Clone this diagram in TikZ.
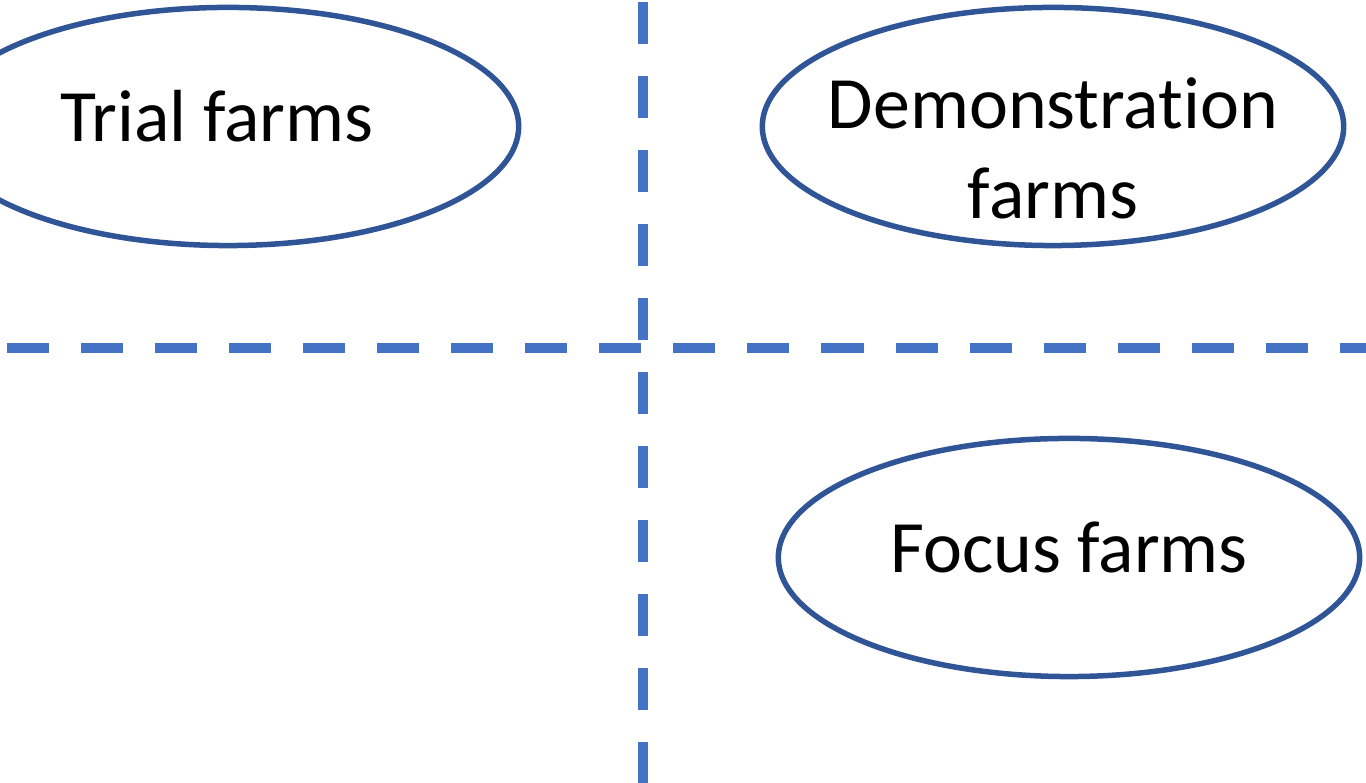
\documentclass[tikz,border=0pt]{standalone}
\usepackage{fontspec}
\setmainfont[Ligatures={NoCommon},RawFeature={-calt}]{Carlito}
\usetikzlibrary{shapes.geometric}
\definecolor{dashblue}{HTML}{4472C4}
\definecolor{ringblue}{HTML}{2F5597}
\begin{document}
\begin{tikzpicture}[x=0.01cm,y=-0.01cm,
  farm/.style={ellipse, draw=ringblue, line width=0.055cm, inner sep=0pt,
    minimum width=5.81cm, minimum height=2.38cm},
  farmtext/.style={font=\fontsize{21pt}{25.6pt}\selectfont, align=center, inner sep=0pt},
  divider/.style={draw=dashblue, line width=0.1cm, dash pattern=on 0.42cm off 0.32cm}]
\useasboundingbox (0,0) rectangle (1366,783);
\coordinate (vtop) at (643,2);
\coordinate (vbot) at (643,783);
\coordinate (hleft) at (7,348);
\coordinate (hright) at (1366,348);
\draw[divider] (vtop) -- (vbot);
\draw[divider] (hleft) -- (hright);
\node[farm] (trial) at (228,126.5) {};
\node[farm] (demo) at (1053,126.5) {};
\node[farm] (focus) at (1069,557.5) {};
\node[farmtext] (trialtxt) at (217,116) {Trial farms};
\node[farmtext] (demotxt) at (1053,148) {Demonstrat\kern0pt ion\\farms};
\node[farmtext] (focustxt) at (1069,547) {Focus farms};
\end{tikzpicture}
\end{document}
